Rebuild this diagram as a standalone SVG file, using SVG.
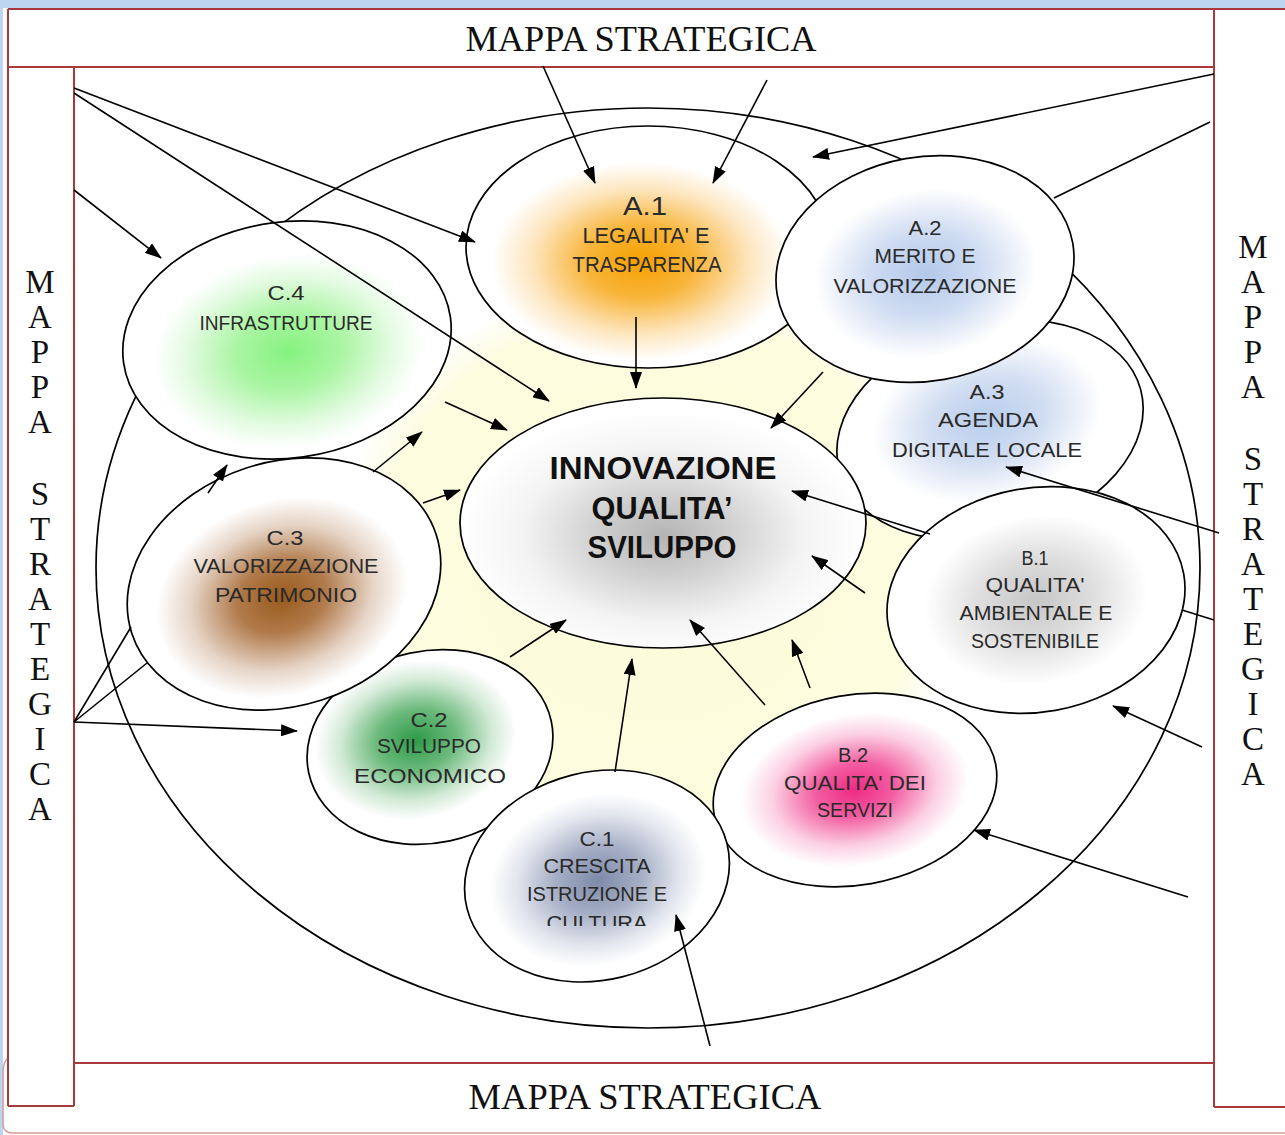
<svg xmlns="http://www.w3.org/2000/svg" width="1285" height="1135" viewBox="0 0 1285 1135">
<defs>
<style>
.frame{fill:none;stroke:#a83a3a;stroke-width:2}
.frame2{fill:none;stroke:#d69a9a;stroke-width:1.5}
.ttl{font-family:"Liberation Serif","Times New Roman",serif;font-size:35px;fill:#111;text-anchor:middle}
.vt{font-family:"Liberation Serif","Times New Roman",serif;font-size:33px;fill:#111;text-anchor:middle}
.nd ellipse{stroke:#000;stroke-width:1.7}
.lbl{font-family:"Liberation Sans",Arial,sans-serif;font-size:20px;fill:#2a2a2a;text-anchor:middle}
.big{font-family:"Liberation Sans",Arial,sans-serif;font-size:31px;font-weight:bold;fill:#111;text-anchor:middle}
.cn line{stroke:#000;stroke-width:1.6;fill:none}
.ar{marker-end:url(#ah)}
</style>
<marker id="ah" markerUnits="userSpaceOnUse" markerWidth="17" markerHeight="12" refX="16" refY="6" orient="auto">
<path d="M0,0 L17,6 L0,12 Z" fill="#000"/>
</marker>
<radialGradient id="gY" cx="0.5" cy="0.5" r="0.5">
<stop offset="0" stop-color="#fcfcda"/><stop offset="0.86" stop-color="#fcfcdf"/><stop offset="1" stop-color="#ffffff"/>
</radialGradient>
<radialGradient id="gA1" cx="0.48" cy="0.56" r="0.5">
<stop offset="0" stop-color="#f5a000"/><stop offset="0.3" stop-color="#f8b53a"/><stop offset="0.6" stop-color="#fde6bf"/><stop offset="0.82" stop-color="#ffffff"/>
</radialGradient>
<radialGradient id="gA2" cx="0.5" cy="0.52" r="0.5">
<stop offset="0" stop-color="#b3c8ea"/><stop offset="0.38" stop-color="#cfdcf2"/><stop offset="0.75" stop-color="#ffffff"/>
</radialGradient>
<radialGradient id="gA3" cx="0.5" cy="0.45" r="0.5">
<stop offset="0" stop-color="#b8cdec"/><stop offset="0.38" stop-color="#d2def2"/><stop offset="0.75" stop-color="#ffffff"/>
</radialGradient>
<radialGradient id="gB1" cx="0.5" cy="0.5" r="0.5">
<stop offset="0" stop-color="#c6c6c6"/><stop offset="0.38" stop-color="#dedede"/><stop offset="0.75" stop-color="#ffffff"/>
</radialGradient>
<radialGradient id="gB2" cx="0.5" cy="0.5" r="0.5">
<stop offset="0" stop-color="#ee2a85"/><stop offset="0.28" stop-color="#f35ea1"/><stop offset="0.58" stop-color="#fbd0e3"/><stop offset="0.8" stop-color="#ffffff"/>
</radialGradient>
<radialGradient id="gC1" cx="0.5" cy="0.52" r="0.5">
<stop offset="0" stop-color="#7d8aa8"/><stop offset="0.32" stop-color="#a5aec5"/><stop offset="0.62" stop-color="#e2e6ee"/><stop offset="0.82" stop-color="#ffffff"/>
</radialGradient>
<radialGradient id="gC2" cx="0.45" cy="0.45" r="0.5">
<stop offset="0" stop-color="#2e9a48"/><stop offset="0.32" stop-color="#6cba7c"/><stop offset="0.62" stop-color="#d3ead7"/><stop offset="0.82" stop-color="#ffffff"/>
</radialGradient>
<radialGradient id="gC3" cx="0.48" cy="0.55" r="0.5">
<stop offset="0" stop-color="#9a5a1c"/><stop offset="0.28" stop-color="#b07a4a"/><stop offset="0.58" stop-color="#e6d4c6"/><stop offset="0.8" stop-color="#ffffff"/>
</radialGradient>
<radialGradient id="gC4" cx="0.5" cy="0.55" r="0.5">
<stop offset="0" stop-color="#86f27f"/><stop offset="0.32" stop-color="#aaf5a3"/><stop offset="0.62" stop-color="#e3fbe1"/><stop offset="0.82" stop-color="#ffffff"/>
</radialGradient>
<radialGradient id="gCen" cx="0.5" cy="0.55" r="0.5">
<stop offset="0" stop-color="#b4b4b4"/><stop offset="0.35" stop-color="#d2d2d2"/><stop offset="0.7" stop-color="#f4f4f4"/><stop offset="1" stop-color="#ffffff"/>
</radialGradient>
<clipPath id="clipCul"><rect x="450" y="900" width="300" height="26"/></clipPath>
</defs>

<rect x="0" y="0" width="1285" height="1135" fill="#bdd5ee"/>
<rect x="3" y="8" width="1282" height="1127" fill="#ffffff"/>

<g id="frames">
<path class="frame2" d="M8,1058 Q3,1062 3,1072 L3,1124 Q3,1133 13,1133 L1285,1133"/>
<line class="frame" x1="8" y1="9" x2="1285" y2="9"/>
<line class="frame" x1="8" y1="9" x2="8" y2="1106"/>
<line class="frame" x1="8" y1="67" x2="1214" y2="67"/>
<line class="frame" x1="74" y1="67" x2="74" y2="1106"/>
<line class="frame" x1="8" y1="1106" x2="74" y2="1106"/>
<line class="frame" x1="1214" y1="9" x2="1214" y2="1107"/>
<line class="frame" x1="1214" y1="1107" x2="1285" y2="1107"/>
<line class="frame" x1="74" y1="1063" x2="1214" y2="1063"/>
<text class="ttl" x="641" y="51" textLength="351" lengthAdjust="spacingAndGlyphs">MAPPA STRATEGICA</text>
<text class="ttl" x="645" y="1109" textLength="353" lengthAdjust="spacingAndGlyphs">MAPPA STRATEGICA</text>
<g class="vt">
<text x="40" y="293">M</text><text x="40" y="328">A</text><text x="40" y="363">P</text><text x="40" y="398">P</text><text x="40" y="433">A</text>
<text x="40" y="505">S</text><text x="40" y="540">T</text><text x="40" y="575">R</text><text x="40" y="610">A</text><text x="40" y="645">T</text><text x="40" y="680">E</text><text x="40" y="715">G</text><text x="40" y="750">I</text><text x="40" y="785">C</text><text x="40" y="820">A</text>
</g>
<g class="vt">
<text x="1253" y="258">M</text><text x="1253" y="293">A</text><text x="1253" y="328">P</text><text x="1253" y="363">P</text><text x="1253" y="398">A</text>
<text x="1253" y="470">S</text><text x="1253" y="505">T</text><text x="1253" y="540">R</text><text x="1253" y="575">A</text><text x="1253" y="610">T</text><text x="1253" y="645">E</text><text x="1253" y="680">G</text><text x="1253" y="715">I</text><text x="1253" y="750">C</text><text x="1253" y="785">A</text>
</g>
</g>

<g id="outer">
<ellipse cx="648" cy="568" rx="552" ry="460" fill="#ffffff" stroke="#000" stroke-width="1.7"/>
<ellipse cx="655" cy="560" rx="320" ry="285" fill="url(#gY)"/>
</g>

<g id="C4" class="nd">
<ellipse cx="287" cy="340" rx="165" ry="118" transform="rotate(-8 287 340)" fill="url(#gC4)"/>
<text class="lbl" x="286" y="300" textLength="37" lengthAdjust="spacingAndGlyphs">C.4</text>
<text class="lbl" x="286" y="330" textLength="173" lengthAdjust="spacingAndGlyphs">INFRASTRUTTURE</text>
</g>

<g id="A1" class="nd">
<ellipse cx="648" cy="247" rx="182" ry="121" fill="url(#gA1)"/>
<text class="lbl" x="645" y="215" style="font-size:25px" textLength="44" lengthAdjust="spacingAndGlyphs">A.1</text>
<text class="lbl" x="646" y="243" style="font-size:22px" textLength="127" lengthAdjust="spacingAndGlyphs">LEGALITA' E</text>
<text class="lbl" x="647" y="272" style="font-size:22px" textLength="149" lengthAdjust="spacingAndGlyphs">TRASPARENZA</text>
</g>

<g id="A3" class="nd">
<ellipse cx="990" cy="430" rx="156" ry="106" transform="rotate(-15 990 430)" fill="url(#gA3)"/>
<text class="lbl" x="987" y="399" textLength="35" lengthAdjust="spacingAndGlyphs">A.3</text>
<text class="lbl" x="988" y="427" textLength="100" lengthAdjust="spacingAndGlyphs">AGENDA</text>
<text class="lbl" x="987" y="457" textLength="190" lengthAdjust="spacingAndGlyphs">DIGITALE LOCALE</text>
</g>

<g id="A2" class="nd">
<ellipse cx="925" cy="269" rx="150" ry="112" transform="rotate(-10 925 269)" fill="url(#gA2)"/>
<text class="lbl" x="925" y="235" textLength="33" lengthAdjust="spacingAndGlyphs">A.2</text>
<text class="lbl" x="925" y="263" textLength="101" lengthAdjust="spacingAndGlyphs">MERITO E</text>
<text class="lbl" x="925" y="293" textLength="183" lengthAdjust="spacingAndGlyphs">VALORIZZAZIONE</text>
</g>

<g id="C2" class="nd">
<ellipse cx="430" cy="747" rx="124" ry="96" transform="rotate(-12 430 747)" fill="url(#gC2)"/>
<text class="lbl" x="429" y="727" textLength="37" lengthAdjust="spacingAndGlyphs">C.2</text>
<text class="lbl" x="429" y="753" textLength="104" lengthAdjust="spacingAndGlyphs">SVILUPPO</text>
<text class="lbl" x="430" y="783" textLength="152" lengthAdjust="spacingAndGlyphs">ECONOMICO</text>
</g>

<g id="C3" class="nd">
<ellipse cx="284" cy="584" rx="160" ry="122" transform="rotate(-18 284 584)" fill="url(#gC3)"/>
<text class="lbl" x="285" y="545" textLength="37" lengthAdjust="spacingAndGlyphs">C.3</text>
<text class="lbl" x="286" y="573" textLength="185" lengthAdjust="spacingAndGlyphs">VALORIZZAZIONE</text>
<text class="lbl" x="286" y="602" textLength="142" lengthAdjust="spacingAndGlyphs">PATRIMONIO</text>
</g>

<g id="B2" class="nd">
<ellipse cx="855" cy="790" rx="143" ry="95" transform="rotate(-10 855 790)" fill="url(#gB2)"/>
<text class="lbl" x="853" y="762" textLength="30" lengthAdjust="spacingAndGlyphs">B.2</text>
<text class="lbl" x="855" y="790" textLength="142" lengthAdjust="spacingAndGlyphs">QUALITA' DEI</text>
<text class="lbl" x="855" y="817" textLength="76" lengthAdjust="spacingAndGlyphs">SERVIZI</text>
</g>

<g id="C1" class="nd">
<ellipse cx="597" cy="876" rx="134" ry="104" transform="rotate(-14 597 876)" fill="url(#gC1)"/>
<text class="lbl" x="597" y="846" textLength="35" lengthAdjust="spacingAndGlyphs">C.1</text>
<text class="lbl" x="597" y="873" textLength="107" lengthAdjust="spacingAndGlyphs">CRESCITA</text>
<text class="lbl" x="597" y="901" textLength="140" lengthAdjust="spacingAndGlyphs">ISTRUZIONE E</text>
<text class="lbl" x="597" y="930" textLength="101" lengthAdjust="spacingAndGlyphs" clip-path="url(#clipCul)">CULTURA</text>
</g>

<g id="B1" class="nd">
<ellipse cx="1036" cy="600" rx="150" ry="112" transform="rotate(-10 1036 600)" fill="url(#gB1)"/>
<text class="lbl" x="1035" y="565" textLength="27" lengthAdjust="spacingAndGlyphs">B.1</text>
<text class="lbl" x="1035" y="592" textLength="99" lengthAdjust="spacingAndGlyphs">QUALITA'</text>
<text class="lbl" x="1036" y="620" textLength="153" lengthAdjust="spacingAndGlyphs">AMBIENTALE E</text>
<text class="lbl" x="1035" y="648" textLength="128" lengthAdjust="spacingAndGlyphs">SOSTENIBILE</text>
</g>

<g id="CENTER" class="nd">
<ellipse cx="663" cy="523" rx="203" ry="125" fill="url(#gCen)"/>
<text class="big" x="663" y="479" textLength="227" lengthAdjust="spacingAndGlyphs">INNOVAZIONE</text>
<text class="big" x="662" y="519" textLength="141" lengthAdjust="spacingAndGlyphs">QUALITA’</text>
<text class="big" x="662" y="558" textLength="149" lengthAdjust="spacingAndGlyphs">SVILUPPO</text>
</g>

<g id="connectors" class="cn">
<line class="ar" x1="543" y1="66" x2="595" y2="183"/>
<line class="ar" x1="767" y1="80" x2="713" y2="183"/>
<line class="ar" x1="1214" y1="74" x2="813" y2="157"/>
<line x1="1210" y1="122" x2="1054" y2="198"/>
<line class="ar" x1="74" y1="88" x2="475" y2="242"/>
<line class="ar" x1="74" y1="93" x2="549" y2="401"/>
<line class="ar" x1="74" y1="190" x2="161" y2="258"/>
<line x1="74" y1="722" x2="131" y2="627"/>
<line class="ar" x1="208" y1="493" x2="227" y2="465"/>
<line x1="74" y1="722" x2="147" y2="663"/>
<line class="ar" x1="373" y1="472" x2="422" y2="432"/>
<line class="ar" x1="74" y1="722" x2="297" y2="731"/>
<line class="ar" x1="636" y1="317" x2="636" y2="388"/>
<line class="ar" x1="823" y1="372" x2="771" y2="428"/>
<line class="ar" x1="930" y1="534" x2="792" y2="491"/>
<line class="ar" x1="865" y1="593" x2="812" y2="556"/>
<line class="ar" x1="765" y1="705" x2="690" y2="620"/>
<line class="ar" x1="810" y1="688" x2="792" y2="640"/>
<line class="ar" x1="615" y1="772" x2="632" y2="659"/>
<line class="ar" x1="510" y1="657" x2="566" y2="620"/>
<line class="ar" x1="423" y1="503" x2="460" y2="490"/>
<line class="ar" x1="445" y1="402" x2="507" y2="430"/>
<line class="ar" x1="1219" y1="533" x2="1006" y2="467"/>
<line x1="1214" y1="620" x2="1182" y2="610"/>
<line class="ar" x1="1202" y1="747" x2="1113" y2="706"/>
<line class="ar" x1="1188" y1="897" x2="974" y2="830"/>
<line class="ar" x1="710" y1="1046" x2="676" y2="915"/>
</g>
</svg>
